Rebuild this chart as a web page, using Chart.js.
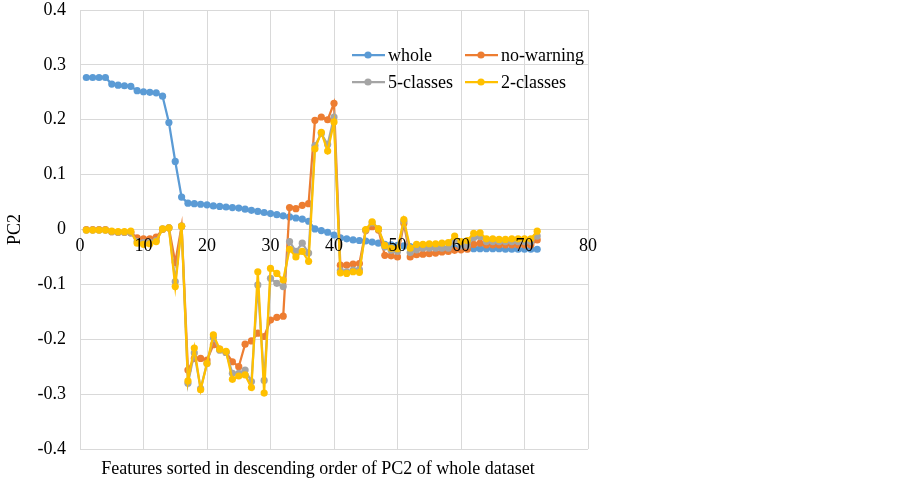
<!DOCTYPE html>
<html>
<head>
<meta charset="utf-8">
<script src="https://cdn.jsdelivr.net/npm/chart.js@4.4.0/dist/chart.umd.min.js"></script>
<style>
  body { margin: 0; background: #fff; }
  #wrap { width: 902px; height: 489px; }
</style>
</head>
<body>
<div id="wrap"><canvas id="pcChart" width="902" height="489"></canvas></div>
<script>
// feature index along the x axis (1..72)
const features = Array.from({ length: 72 }, (_, i) => i + 1);

const whole = [
    0.277, 0.277, 0.277, 0.277, 0.265, 0.263, 0.262, 0.261,
    0.253, 0.251, 0.250, 0.249, 0.243, 0.195, 0.124, 0.059,
    0.048, 0.047, 0.046, 0.045, 0.043, 0.042, 0.041, 0.040,
    0.039, 0.037, 0.035, 0.033, 0.031, 0.029, 0.027, 0.025,
    0.023, 0.021, 0.019, 0.015, 0.001, -0.002, -0.005, -0.010,
    -0.015, -0.017, -0.019, -0.020, -0.021, -0.023, -0.025, -0.027,
    -0.028, -0.029, -0.030, -0.031, -0.031, -0.032, -0.032, -0.033,
    -0.033, -0.034, -0.034, -0.034, -0.035, -0.035, -0.035, -0.035,
    -0.035, -0.035, -0.036, -0.036, -0.036, -0.036, -0.036, -0.036
];

const noWarning = [
    0.000, 0.000, 0.000, 0.000, -0.004, -0.005, -0.005, -0.006,
    -0.015, -0.017, -0.017, -0.014, 0.000, 0.003, -0.060, 0.006,
    -0.256, -0.235, -0.235, -0.238, -0.210, -0.218, -0.224, -0.241,
    -0.250, -0.209, -0.203, -0.189, -0.195, -0.165, -0.160, -0.158,
    0.040, 0.038, 0.044, 0.047, 0.199, 0.205, 0.200, 0.230,
    -0.065, -0.065, -0.063, -0.062, -0.002, 0.005, -0.001, -0.047,
    -0.048, -0.050, 0.011, -0.050, -0.046, -0.045, -0.044, -0.043,
    -0.041, -0.040, -0.038, -0.037, -0.036, -0.027, -0.025, -0.028,
    -0.028, -0.028, -0.028, -0.028, -0.028, -0.028, -0.028, -0.019
];

const fiveClasses = [
    -0.001, -0.001, -0.001, -0.001, -0.004, -0.005, -0.005, -0.006,
    -0.022, -0.024, -0.023, -0.020, 0.001, 0.003, -0.095, 0.006,
    -0.280, -0.225, -0.290, -0.244, -0.197, -0.220, -0.224, -0.262,
    -0.262, -0.256, -0.277, -0.101, -0.275, -0.089, -0.098, -0.104,
    -0.022, -0.040, -0.025, -0.043, 0.153, 0.175, 0.155, 0.205,
    -0.075, -0.077, -0.074, -0.073, -0.001, 0.012, 0.001, -0.032,
    -0.038, -0.040, 0.015, -0.042, -0.037, -0.034, -0.034, -0.034,
    -0.034, -0.034, -0.020, -0.030, -0.029, -0.015, -0.013, -0.022,
    -0.022, -0.022, -0.022, -0.022, -0.022, -0.022, -0.022, -0.012
];

const twoClasses = [
    -0.001, -0.001, -0.001, -0.001, -0.003, -0.004, -0.004, -0.003,
    -0.025, -0.027, -0.026, -0.022, 0.001, 0.003, -0.104, 0.006,
    -0.276, -0.216, -0.292, -0.244, -0.192, -0.218, -0.222, -0.273,
    -0.267, -0.265, -0.288, -0.077, -0.298, -0.071, -0.080, -0.092,
    -0.036, -0.050, -0.040, -0.058, 0.147, 0.177, 0.143, 0.196,
    -0.079, -0.080, -0.077, -0.078, 0.000, 0.014, 0.001, -0.029,
    -0.034, -0.035, 0.018, -0.034, -0.027, -0.027, -0.026, -0.026,
    -0.025, -0.024, -0.012, -0.022, -0.020, -0.007, -0.006, -0.017,
    -0.017, -0.018, -0.018, -0.017, -0.017, -0.017, -0.017, -0.003
];

const seriesNames = ['whole', 'no-warning', '5-classes', '2-classes'];
const seriesColors = ['#5B9BD5', '#ED7D31', '#A5A5A5', '#FFC000'];
const xTitle = 'Features sorted in descending order of PC2 of whole dataset';
const yTitle = 'PC2';

const serif = '"Liberation Serif", "Times New Roman", serif';
const gridColor = '#D9D9D9';

function toPoints(values) {
    return values.map((v, i) => ({ x: features[i], y: v }));
}

function makeDataset(idx, values) {
    return {
        label: seriesNames[idx],
        data: toPoints(values),
        borderColor: seriesColors[idx],
        backgroundColor: seriesColors[idx],
        borderWidth: 2.25,
        pointRadius: 3.6,
        pointHoverRadius: 3.6,
        pointBorderWidth: 0,
        tension: 0,
        order: 4 - idx   // later series drawn on top, like the original
    };
}

// legend drawn inside the plot, two rows of two items
const insideLegend = {
    id: 'insideLegend',
    afterDraw(chart) {
        const ctx = chart.ctx;
        const cols = [352, 465];
        const rows = [55, 82];
        ctx.save();
        ctx.font = '18px ' + serif;
        ctx.textBaseline = 'middle';
        ctx.textAlign = 'left';
        for (let i = 0; i < seriesNames.length; i++) {
            const x = cols[i % 2];
            const y = rows[Math.floor(i / 2)];
            ctx.strokeStyle = seriesColors[i];
            ctx.fillStyle = seriesColors[i];
            ctx.lineWidth = 2.25;
            ctx.beginPath();
            ctx.moveTo(x, y);
            ctx.lineTo(x + 33, y);
            ctx.stroke();
            ctx.beginPath();
            ctx.arc(x + 16, y, 3.6, 0, Math.PI * 2);
            ctx.fill();
            ctx.fillStyle = '#000';
            ctx.fillText(seriesNames[i], x + 36, y + 1);
        }
        ctx.restore();
    }
};

// x axis title sits at the bottom of the figure, not at the y=0 axis line
const bottomTitle = {
    id: 'bottomTitle',
    afterDraw(chart) {
        const ctx = chart.ctx;
        ctx.save();
        ctx.font = '18px ' + serif;
        ctx.fillStyle = '#000';
        ctx.textAlign = 'center';
        ctx.textBaseline = 'middle';
        ctx.fillText(xTitle, 318, 469);
        ctx.restore();
    }
};

const tickFont = { family: serif, size: 18 };

const ctx = document.getElementById('pcChart').getContext('2d');
new Chart(ctx, {
    type: 'line',
    data: {
        datasets: [
            makeDataset(0, whole),
            makeDataset(1, noWarning),
            makeDataset(2, fiveClasses),
            makeDataset(3, twoClasses)
        ]
    },
    options: {
        responsive: false,
        animation: false,
        layout: {
            padding: { top: 10, right: 314, bottom: 40, left: 0 }
        },
        plugins: {
            legend: { display: false },
            tooltip: { enabled: false }
        },
        scales: {
            x: {
                type: 'linear',
                min: 0,
                max: 80,
                position: { y: 0 },
                afterFit: function(scale) { scale.height = 0; },
                grid: { color: gridColor, drawTicks: false },
                border: { color: gridColor },
                ticks: {
                    stepSize: 10,
                    padding: 6,
                    z: 1,          // labels over the lines, as in the original
                    color: '#000',
                    font: tickFont,
                    maxRotation: 0
                }
            },
            y: {
                min: -0.4,
                max: 0.4,
                afterFit: function(scale) {
                    scale.width = 80;
                    scale.paddingTop = 0;
                    scale.paddingBottom = 0;
                },
                grid: { color: gridColor, drawTicks: false },
                border: { color: gridColor },
                ticks: {
                    stepSize: 0.1,
                    padding: 14,
                    color: '#000',
                    font: tickFont
                },
                title: {
                    display: true,
                    text: yTitle,
                    color: '#000',
                    font: tickFont,
                    padding: { top: 4, bottom: 0 }
                }
            }
        }
    },
    plugins: [insideLegend, bottomTitle]
});
</script>
</body>
</html>
